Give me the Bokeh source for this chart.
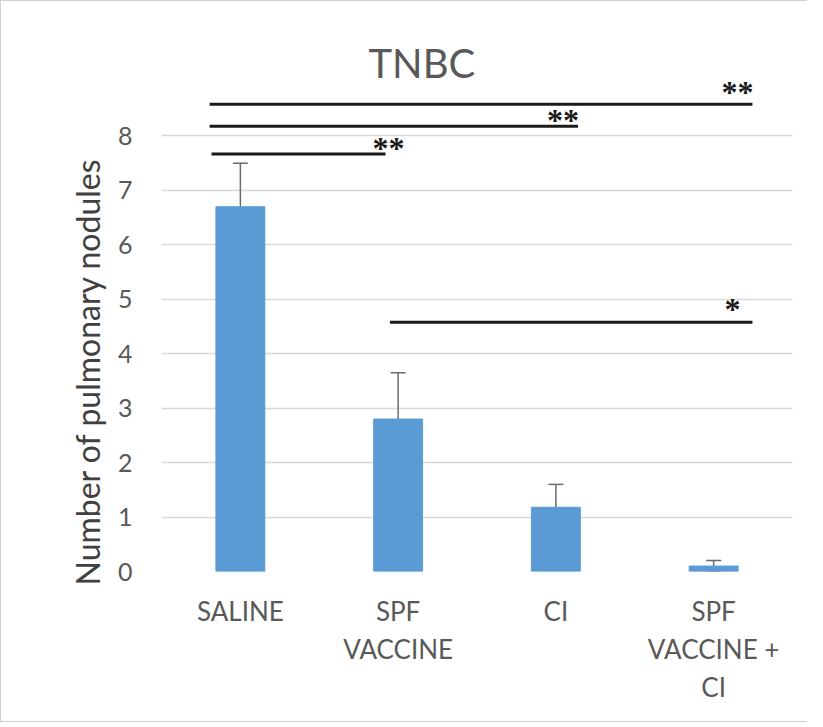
from bokeh.plotting import figure
from bokeh.models import (ColumnDataSource, FactorRange, Whisker, TeeHead, Range1d,
                          FixedTicker, LabelSet, Title)
from bokeh.embed import file_html
from bokeh.resources import INLINE

categories = ["SALINE", "SPF\nVACCINE", "CI", "SPF\nVACCINE +\nCI"]
nodules = [6.7, 2.8, 1.18, 0.1]
err_upper = [7.5, 3.65, 1.6, 0.2]
err_lower = [5.9, 1.95, 0.78, 0.0]
y_ticks = [0, 1, 2, 3, 4, 5, 6, 7, 8]

# significance brackets (category, offset within category)
sig_start = [("SALINE", -0.195), ("SALINE", -0.195), ("SALINE", -0.183), ("SPF\nVACCINE", -0.052)]
sig_end = [("SPF\nVACCINE +\nCI", 0.246), ("CI", 0.14), ("SPF\nVACCINE", -0.08), ("SPF\nVACCINE +\nCI", 0.246)]
sig_y = [8.58, 8.18, 7.67, 4.58]
sig_label = ["**", "**", "**", "*"]
sig_label_dx = [1, 1, 19, -12]
sig_label_dy = [12, 6, 5.5, 13]

FONT = "Lato"

p = figure(
    x_range=FactorRange(*categories, range_padding=0),
    y_range=Range1d(0, 9.0),
    width=807, height=722,
    output_backend="svg", toolbar_location=None,
    min_border_left=160, min_border_right=16, min_border_top=80, min_border_bottom=152,
)
p.title.text = "TNBC"
p.title.align = "left"
p.title.offset = 207
p.title.standoff = -11
p.title.vertical_align = "bottom"
p.title.text_font = FONT
p.title.text_font_size = "40px"
p.title.text_font_style = "normal"
p.title.text_color = "#595959"

src = ColumnDataSource(dict(cat=categories, val=nodules, up=err_upper, lo=err_lower))
p.vbar(x="cat", top="val", width=0.31, source=src, color="#5b9bd5", line_color="#5b9bd5")

w = Whisker(base="cat", upper="up", lower="lo", source=src,
            line_color="#6b6b6b", line_width=1.5,
            upper_head=TeeHead(size=15, line_color="#6b6b6b", line_width=1.5),
            lower_head=TeeHead(size=15, line_color="#6b6b6b", line_width=1.5))
p.add_layout(w)

sig = ColumnDataSource(dict(x0=sig_start, x1=sig_end, y=sig_y, lab=sig_label,
                            dx=sig_label_dx, dy=sig_label_dy))
p.segment(x0="x0", y0="y", x1="x1", y1="y", source=sig, line_color="#1a1a1a", line_width=3)
p.add_layout(LabelSet(x="x1", y="y", text="lab", x_offset="dx", y_offset="dy", source=sig,
                      text_align="right", text_baseline="middle", text_font="DejaVu Sans",
                      text_font_style="bold", text_font_size="32px", text_color="#1a1a1a"))

ytitle = Title(text="Number of pulmonary nodules", align="left", offset=-14, standoff=16,
               text_font=FONT, text_font_size="32px", text_font_style="normal",
               text_color="#404040")
p.add_layout(ytitle, "left")

p.yaxis.ticker = FixedTicker(ticks=y_ticks)
for ax in (p.xaxis[0], p.yaxis[0]):
    ax.axis_line_color = None
    ax.major_tick_line_color = None
    ax.minor_tick_line_color = None
    ax.major_label_text_font = FONT
    ax.major_label_text_color = "#595959"
p.yaxis.major_label_text_font_size = "25px"
p.yaxis.major_label_standoff = 23
p.xaxis.major_label_text_font_size = "26px"
p.xaxis.major_label_standoff = 17

p.xgrid.grid_line_color = None
p.ygrid.grid_line_color = "#d9d9d9"
p.ygrid.grid_line_width = 1.5
p.outline_line_color = None
p.styles = {"border-left": "1px solid #d0d0d0", "border-top": "1px solid #d0d0d0",
            "border-bottom": "1px solid #d0d0d0"}

open("out.html", "w").write(file_html(p, INLINE))
